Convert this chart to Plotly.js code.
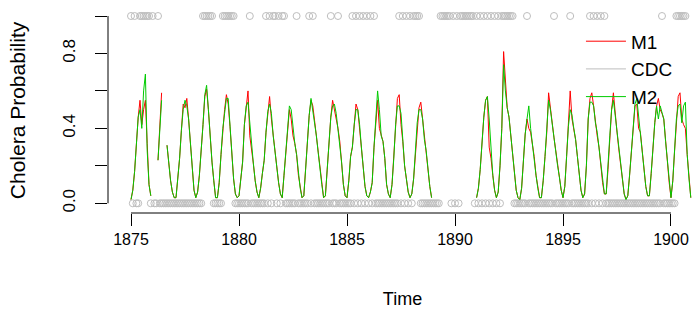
<!DOCTYPE html>
<html>
<head>
<meta charset="utf-8">
<script src="https://cdn.plot.ly/plotly-3.0.1.min.js"></script>
<style>html,body{margin:0;padding:0;background:#fff;}#chart{width:697px;height:320px;}</style>
</head>
<body>
<div id="chart"></div>
<script>
// Monthly series, January 1875 onward (one row per year)
const startYear = 1875;
const monthsPerYear = 12;

const m1Values = [
  0.02,0.07,0.17,0.33,0.46,0.55,0.42,0.50,0.55,0.32,0.10,0.04,
  null,null,null,0.23,0.42,0.59,null,null,0.31,0.21,0.12,0.06,
  0.03,0.03,0.13,0.24,0.39,0.53,0.51,0.56,0.45,0.32,0.17,0.07,
  0.03,0.06,0.15,0.27,0.42,0.57,0.61,0.50,0.35,0.22,0.12,0.03,
  0.03,0.11,0.26,0.40,0.50,0.58,0.53,0.41,0.24,0.13,0.05,0.03,
  0.04,0.14,0.22,0.42,0.52,0.60,0.36,0.29,0.21,0.12,0.06,0.03,
  0.08,0.16,0.23,0.38,0.49,0.57,0.45,0.36,0.27,0.20,0.11,0.05,
  0.03,0.15,0.28,0.40,0.50,0.45,0.36,0.32,0.26,0.15,0.08,0.03,
  0.04,0.18,0.33,0.47,0.55,0.52,0.44,0.36,0.27,0.17,0.10,0.03,
  0.04,0.18,0.34,0.46,0.55,0.50,0.46,0.40,0.33,0.22,0.10,0.04,
  0.03,0.12,0.25,0.30,0.42,0.53,0.50,0.40,0.30,0.20,0.09,0.04,
  0.03,0.06,0.11,0.30,0.43,0.55,0.40,0.36,0.33,0.24,0.10,0.05,
  0.03,0.10,0.24,0.42,0.56,0.58,0.42,0.33,0.20,0.13,0.06,0.03,
  0.05,0.13,0.26,0.43,0.51,0.54,0.45,0.34,0.28,0.18,0.09,0.03,
  null,null,null,null,null,null,null,null,null,null,null,null,
  null,null,null,null,null,null,null,null,null,null,null,null,
  0.03,0.08,0.18,0.35,0.46,0.55,0.57,0.30,0.24,0.15,0.07,0.03,
  0.06,0.20,0.40,0.81,0.63,0.51,0.46,0.36,0.25,0.14,0.07,0.03,
  0.02,0.08,0.22,0.37,0.45,0.40,0.38,0.31,0.25,0.15,0.08,0.03,
  0.03,0.12,0.25,0.38,0.59,0.50,0.42,0.35,0.28,0.20,0.14,0.07,
  0.03,0.09,0.25,0.41,0.60,0.45,0.40,0.34,0.25,0.15,0.07,0.03,
  0.05,0.20,0.45,0.56,0.59,0.52,0.43,0.36,0.30,0.20,0.11,0.05,
  0.05,0.18,0.36,0.50,0.59,0.47,0.38,0.29,0.21,0.12,0.05,0.02,
  0.04,0.15,0.27,0.40,0.52,0.53,0.40,0.38,0.29,0.19,0.09,0.04,
  0.04,0.16,0.30,0.43,0.52,0.56,0.50,0.48,0.45,0.33,0.22,0.11,
  0.03,0.12,0.28,0.45,0.57,0.59,0.45,0.42,0.40,0.26,0.13,0.03
];

const m2Values = [
  0.02,0.07,0.17,0.33,0.46,0.50,0.40,0.60,0.69,0.28,0.10,0.04,
  null,null,null,0.23,0.40,0.55,null,null,0.31,0.21,0.12,0.06,
  0.03,0.03,0.13,0.24,0.39,0.50,0.55,0.52,0.45,0.32,0.17,0.07,
  0.03,0.06,0.15,0.27,0.42,0.58,0.63,0.50,0.35,0.22,0.12,0.03,
  0.03,0.11,0.26,0.40,0.48,0.56,0.56,0.41,0.24,0.13,0.05,0.03,
  0.04,0.14,0.22,0.42,0.52,0.54,0.42,0.29,0.21,0.12,0.06,0.03,
  0.08,0.16,0.23,0.38,0.49,0.53,0.48,0.36,0.27,0.20,0.11,0.05,
  0.03,0.15,0.28,0.40,0.52,0.50,0.40,0.32,0.26,0.15,0.08,0.03,
  0.04,0.18,0.33,0.47,0.56,0.50,0.44,0.36,0.27,0.17,0.10,0.03,
  0.04,0.18,0.34,0.46,0.52,0.53,0.48,0.40,0.33,0.22,0.10,0.04,
  0.03,0.12,0.25,0.30,0.42,0.50,0.50,0.42,0.30,0.20,0.09,0.04,
  0.03,0.06,0.11,0.30,0.43,0.60,0.50,0.36,0.33,0.24,0.10,0.05,
  0.03,0.10,0.24,0.42,0.52,0.52,0.48,0.33,0.20,0.13,0.06,0.03,
  0.05,0.13,0.26,0.43,0.50,0.50,0.45,0.34,0.28,0.18,0.09,0.03,
  null,null,null,null,null,null,null,null,null,null,null,null,
  null,null,null,null,null,null,null,null,null,null,null,null,
  0.03,0.08,0.18,0.35,0.46,0.55,0.57,0.45,0.27,0.15,0.07,0.03,
  0.06,0.20,0.40,0.74,0.60,0.51,0.46,0.36,0.25,0.14,0.07,0.03,
  0.02,0.08,0.22,0.37,0.45,0.52,0.40,0.31,0.25,0.15,0.08,0.03,
  0.03,0.12,0.25,0.38,0.55,0.50,0.42,0.35,0.28,0.20,0.14,0.07,
  0.03,0.09,0.25,0.41,0.50,0.47,0.40,0.34,0.25,0.15,0.07,0.03,
  0.05,0.20,0.45,0.54,0.54,0.52,0.43,0.38,0.30,0.20,0.11,0.05,
  0.05,0.18,0.36,0.50,0.55,0.47,0.38,0.29,0.21,0.12,0.05,0.02,
  0.04,0.15,0.27,0.40,0.53,0.56,0.47,0.38,0.29,0.19,0.09,0.04,
  0.04,0.16,0.30,0.43,0.52,0.45,0.52,0.48,0.45,0.33,0.22,0.11,
  0.03,0.12,0.28,0.45,0.52,0.53,0.43,0.52,0.54,0.26,0.13,0.03
];

const cdcValues = [
  1,0,1,0,0,1,1,1,1,1,1,0,
  1,0,0,1,0,0,0,0,0,0,0,0,
  0,0,0,0,0,0,0,0,0,0,0,0,
  0,0,0,0,1,1,1,1,1,1,0,0,
  0,0,0,1,1,1,1,1,1,1,0,0,
  0,0,0,0,0,0,1,0,0,0,0,0,
  0,0,0,1,0,1,0,1,1,0,1,0,
  1,1,0,0,0,0,0,0,1,0,0,0,
  0,0,0,1,0,1,0,0,0,0,0,0,
  0,0,0,1,0,0,0,1,0,0,0,0,
  0,0,0,1,0,1,0,1,0,1,0,1,
  0,1,0,1,0,0,0,0,0,0,0,0,
  0,0,0,0,0,1,0,1,0,1,0,1,
  0,1,1,1,1,0,0,0,0,0,0,0,
  0,0,0,0,1,1,1,1,1,1,0,1,
  0,1,0,1,1,1,1,1,1,1,1,0,
  1,0,1,0,1,0,1,0,1,0,1,0,
  1,0,1,1,1,1,1,1,1,0,0,0,
  0,0,0,0,1,0,0,0,0,0,0,0,
  0,0,0,0,0,0,0,1,0,0,0,0,
  0,0,0,0,1,0,0,0,0,0,0,0,
  0,0,0,1,0,1,0,1,0,1,0,1,
  0,0,0,0,0,0,0,0,0,0,0,0,
  0,0,0,0,0,0,0,0,0,0,0,0,
  0,0,0,0,0,0,0,1,0,0,0,0,
  0,0,0,1,1,1,1,1,1,null,null,null
];

const xTickVals = [1875, 1880, 1885, 1890, 1895, 1900];
const yTickVals = [0, 0.2, 0.4, 0.6, 0.8, 1.0];
const yTickText = ['0.0', '', '0.4', '', '0.8', ''];

const time = m1Values.map((_, i) => startYear + i / monthsPerYear);

const FONT = 'Liberation Sans, Arial, Helvetica, sans-serif';
const RED = '#FF0000', GREEN = '#00CC00', GRAY = '#BEBEBE';

const traces = [
  {x: time, y: m1Values, type: 'scatter', mode: 'lines', name: 'M1',
   line: {color: RED, width: 1}, connectgaps: false},
  {x: time, y: cdcValues, type: 'scatter', mode: 'markers', name: 'CDC', showlegend: false,
   marker: {symbol: 'circle-open', size: 7, color: GRAY, line: {width: 1, color: GRAY}}},
  {x: [null], y: [null], type: 'scatter', mode: 'lines', name: 'CDC',
   line: {color: GRAY, width: 1}},
  {x: time, y: m2Values, type: 'scatter', mode: 'lines', name: 'M2',
   line: {color: GREEN, width: 1}, connectgaps: false}
];

const layout = {
  width: 697, height: 320,
  margin: {l: 108, r: 0, t: 8, b: 107, pad: 0},
  paper_bgcolor: '#fff', plot_bgcolor: '#fff',
  font: {family: FONT, color: '#000'},
  showlegend: true,
  legend: {x: 0.803, y: 0.93, xanchor: 'left', yanchor: 'top', itemwidth: 40,
           bgcolor: 'rgba(0,0,0,0)', borderwidth: 0,
           font: {family: FONT, size: 19, color: '#000'}, traceorder: 'normal'},
  xaxis: {
    range: [1873.935, 1901.204], tickmode: 'array', tickvals: xTickVals,
    ticktext: xTickVals.map(String),
    ticks: 'outside', ticklen: 12, tickwidth: 1, tickcolor: '#000',
    showgrid: false, zeroline: false, showline: false,
    tickfont: {family: FONT, size: 16, color: '#000'},
    title: {text: 'Time', font: {family: FONT, size: 18, color: '#000'}, standoff: 45}
  },
  yaxis: {
    range: [-0.0518, 1.0427], tickmode: 'array', tickvals: yTickVals, ticktext: yTickText,
    tickangle: -90, ticklabelstandoff: 13,
    ticks: 'outside', ticklen: 12, tickwidth: 1, tickcolor: '#000',
    showgrid: false, zeroline: false, showline: false,
    tickfont: {family: FONT, size: 17, color: '#000'},
    title: {text: 'Cholera Probability', font: {family: FONT, size: 21, color: '#000'}, standoff: 28}
  },
  shapes: [
    {type: 'line', xref: 'x', yref: 'paper', x0: xTickVals[0], x1: xTickVals[xTickVals.length - 1],
     y0: 0, y1: 0, line: {color: '#000', width: 1}},
    {type: 'line', xref: 'paper', yref: 'y', x0: 0, x1: 0,
     y0: yTickVals[0], y1: yTickVals[yTickVals.length - 1], line: {color: '#000', width: 1}}
  ]
};

Plotly.newPlot('chart', traces, layout, {staticPlot: true, displayModeBar: false});
</script>
</body>
</html>
